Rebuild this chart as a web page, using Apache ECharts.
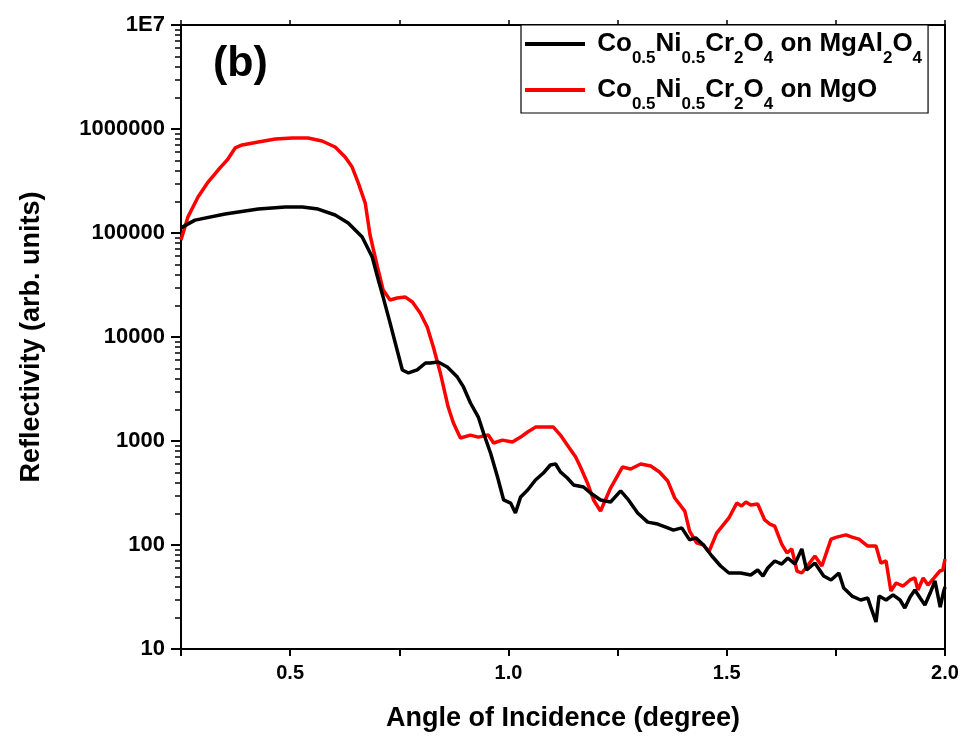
<!DOCTYPE html>
<html>
<head>
<meta charset="utf-8">
<title>Reflectivity</title>
<script src="https://cdn.jsdelivr.net/npm/echarts@6/dist/echarts.min.js"></script>
<style>
  html, body { margin: 0; padding: 0; background: #fff; }
  #chart { width: 964px; height: 740px; }
</style>
</head>
<body>
<div id="chart"></div>
<script>
// Incidence angle (degree) for the film on MgAl2O4
const angleMgAl2O4 = [
  0.250, 0.282, 0.351, 0.427, 0.489, 0.528, 0.564, 0.603, 0.633, 0.665,
  0.688, 0.702, 0.713, 0.729, 0.745, 0.757, 0.771, 0.791, 0.810, 0.821,
  0.839, 0.860, 0.883, 0.897, 0.913, 0.931, 0.943, 0.959, 0.975, 0.989,
  1.005, 1.016, 1.028, 1.044, 1.062, 1.080, 1.096, 1.108, 1.119, 1.135,
  1.149, 1.172, 1.188, 1.211, 1.234, 1.257, 1.275, 1.296, 1.319, 1.342,
  1.365, 1.378, 1.397, 1.415, 1.429, 1.447, 1.466, 1.486, 1.505, 1.532,
  1.555, 1.571, 1.583, 1.594, 1.610, 1.626, 1.640, 1.656, 1.672, 1.683,
  1.702, 1.722, 1.739, 1.757, 1.768, 1.787, 1.807, 1.823, 1.830, 1.842,
  1.849, 1.865, 1.881, 1.897, 1.908, 1.920, 1.931, 1.943, 1.954, 1.966,
  1.977, 1.989, 1.996, 2.000
];
// Reflectivity (arb. units) for the film on MgAl2O4
const reflMgAl2O4 = [
  112000, 133000, 152000, 170000, 178000, 178000, 170000, 149000, 125000, 91600,
  58800, 35300, 24200, 13600, 7500, 4820, 4510, 4820, 5620, 5620,
  5750, 5150, 4120, 3310, 2320, 1700, 1190, 767, 451, 271,
  253, 203, 290, 338, 422, 492, 588, 601, 504, 441,
  378, 361, 316, 271, 259, 331, 271, 203, 166, 159,
  146, 139, 146, 112, 117, 100, 78.4, 62.8, 53.8, 53.8,
  51.5, 57.5, 50.3, 60.1, 70.2, 65.6, 75.0, 65.6, 91.6, 57.5,
  67.1, 50.3, 46.1, 53.8, 38.6, 32.3, 29.6, 30.9, 25.3, 18.2,
  32.3, 29.6, 33.1, 29.6, 24.8, 31.6, 36.9, 30.9, 26.5, 34.5,
  45.1, 25.3, 34.5, 39.5
];

// Incidence angle (degree) for the film on MgO
const angleMgO = [
  0.250, 0.266, 0.289, 0.312, 0.335, 0.356, 0.374, 0.390, 0.427, 0.466,
  0.505, 0.541, 0.573, 0.603, 0.626, 0.642, 0.656, 0.672, 0.683, 0.700,
  0.713, 0.729, 0.745, 0.764, 0.780, 0.798, 0.814, 0.828, 0.844, 0.862,
  0.874, 0.890, 0.913, 0.931, 0.954, 0.966, 0.986, 1.009, 1.028, 1.044,
  1.062, 1.080, 1.103, 1.119, 1.138, 1.154, 1.165, 1.181, 1.195, 1.211,
  1.234, 1.261, 1.280, 1.303, 1.326, 1.346, 1.365, 1.381, 1.404, 1.415,
  1.431, 1.447, 1.459, 1.477, 1.505, 1.523, 1.534, 1.544, 1.555, 1.571,
  1.587, 1.599, 1.610, 1.626, 1.638, 1.649, 1.661, 1.672, 1.688, 1.702,
  1.718, 1.739, 1.752, 1.773, 1.787, 1.803, 1.823, 1.842, 1.853, 1.865,
  1.876, 1.888, 1.904, 1.920, 1.931, 1.938, 1.950, 1.961, 1.975, 1.988,
  1.995, 2.000
];
// Reflectivity (arb. units) for the film on MgO
const reflMgO = [
  85700, 143000, 222000, 309000, 403000, 504000, 657000, 702000, 750000, 801000,
  819000, 819000, 767000, 671000, 538000, 431000, 303000, 194000, 95700, 47100,
  28300, 22700, 23700, 24200, 21700, 17000, 12500, 8020, 4510, 2120,
  1490, 1070, 1140, 1090, 1140, 957, 1020, 978, 1090, 1220,
  1360, 1360, 1360, 1140, 875, 702, 562, 395, 271, 212,
  353, 562, 538, 601, 575, 504, 412, 283, 212, 136,
  105, 100, 85.7, 130, 182, 253, 237, 259, 243, 248,
  174, 159, 152, 102, 83.8, 91.6, 56.2, 53.8, 65.6, 78.4,
  62.8, 114, 119, 125, 119, 114, 97.8, 97.8, 67.1, 70.2,
  36.1, 43.1, 40.3, 46.1, 48.2, 36.9, 48.2, 41.2, 48.2, 56.2,
  57.5, 73.3
];

const seriesNames = ['Co0.5Ni0.5Cr2O4 on MgAl2O4', 'Co0.5Ni0.5Cr2O4 on MgO'];
const seriesColors = ['#000000', '#ff0000'];
// Legend entries with chemical subscripts
const legendRichText = [
  '{m| Co}{s|0.5}{m|Ni}{s|0.5}{m|Cr}{s|2}{m|O}{s|4}{m| on MgAl}{s|2}{m|O}{s|4}',
  '{m| Co}{s|0.5}{m|Ni}{s|0.5}{m|Cr}{s|2}{m|O}{s|4}{m| on MgO}'
];

// Log-axis tick labels
const yMajorLabels = { 10: '10', 100: '100', 1000: '1000', 10000: '10000', 100000: '100000', 1000000: '1000000', 10000000: '1E7' };

const FONT = '"Liberation Sans", Arial, Helvetica, sans-serif';

function pairs(xs, ys) { return xs.map((x, i) => [x, ys[i]]); }

// Bottom axis: numbers only at every 0.5; the in-between ticks get a blank label
function xLabel(v) {
  const n = Number(v);
  return Math.abs(n * 2 - Math.round(n * 2)) < 1e-6 ? n.toFixed(1) : ' ';
}
function yLabel(v) {
  return yMajorLabels[Math.round(Number(v))] || ' ';
}
function legendLabel(name) {
  const i = seriesNames.indexOf(name);
  return i >= 0 ? legendRichText[i] : String(name);
}

const chart = echarts.init(document.getElementById('chart'), null, { renderer: 'canvas' });

chart.setOption({
  backgroundColor: '#ffffff',
  animation: false,
  grid: {
    left: 181, right: 19, top: 25, bottom: 91,
    show: true, borderColor: '#000', borderWidth: 2, backgroundColor: 'transparent'
  },
  title: {
    text: '(b)', left: 208, top: 38,
    textStyle: { fontFamily: FONT, fontWeight: 'bold', fontSize: 43, color: '#000' }
  },
  legend: {
    orient: 'vertical',
    left: 521, top: 25,
    padding: [6, 6, 0, 4],
    itemGap: 10,
    itemWidth: 60, itemHeight: 4,
    icon: 'rect',
    borderColor: '#000', borderWidth: 1.2,
    backgroundColor: '#fff',
    data: seriesNames,
    formatter: legendLabel,
    textStyle: {
      color: '#000',
      rich: {
        m: { fontFamily: FONT, fontWeight: 'bold', fontSize: 26, color: '#000', lineHeight: 46, verticalAlign: 'middle' },
        s: { fontFamily: FONT, fontWeight: 'bold', fontSize: 17, color: '#000', lineHeight: 17, verticalAlign: 'bottom' }
      }
    }
  },
  xAxis: [
    {
      type: 'value', position: 'bottom',
      min: 0.25, max: 2.0, interval: 0.25,
      name: 'Angle of Incidence (degree)',
      nameLocation: 'middle', nameGap: 56,
      nameTextStyle: { fontFamily: FONT, fontWeight: 'bold', fontSize: 27, color: '#000' },
      axisLine: { lineStyle: { color: '#000', width: 2 } },
      axisTick: { show: true, inside: false, length: 7, lineStyle: { color: '#000', width: 2 } },
      axisLabel: {
        fontFamily: FONT, fontWeight: 'bold', fontSize: 20, color: '#000', margin: 14,
        formatter: xLabel
      },
      splitLine: { show: false }
    },
    {
      type: 'value', position: 'top',
      min: 0.25, max: 2.0, interval: 0.25,
      axisLine: { lineStyle: { color: '#000', width: 2 } },
      axisTick: { show: true, inside: false, length: 5, lineStyle: { color: '#000', width: 1.5 } },
      axisLabel: { show: false },
      splitLine: { show: false }
    }
  ],
  yAxis: {
    type: 'log', logBase: 10, min: 10, max: 1e7,
    name: 'Reflectivity (arb. units)',
    nameLocation: 'middle', nameGap: 136,
    nameTextStyle: { fontFamily: FONT, fontWeight: 'bold', fontSize: 27, color: '#000' },
    axisLine: { lineStyle: { color: '#000', width: 2 } },
    axisTick: { show: true, inside: false, length: 10, lineStyle: { color: '#000', width: 2 } },
    // minor ticks at 2..9 within each decade
    minorTick: { show: true, splitNumber: 9, length: 6, lineStyle: { color: '#000', width: 1.5 } },
    axisLabel: {
      fontFamily: FONT, fontWeight: 'bold', fontSize: 22, color: '#000', margin: 16,
      formatter: yLabel
    },
    splitLine: { show: false },
    minorSplitLine: { show: false }
  },
  series: [
    {
      name: seriesNames[0], type: 'line',
      data: pairs(angleMgAl2O4, reflMgAl2O4),
      showSymbol: false, symbol: 'none',
      lineStyle: { color: seriesColors[0], width: 3.5 },
      itemStyle: { color: seriesColors[0] },
      z: 3
    },
    {
      name: seriesNames[1], type: 'line',
      data: pairs(angleMgO, reflMgO),
      showSymbol: false, symbol: 'none',
      lineStyle: { color: seriesColors[1], width: 3.5 },
      itemStyle: { color: seriesColors[1] },
      z: 2
    }
  ]
});
</script>
</body>
</html>
